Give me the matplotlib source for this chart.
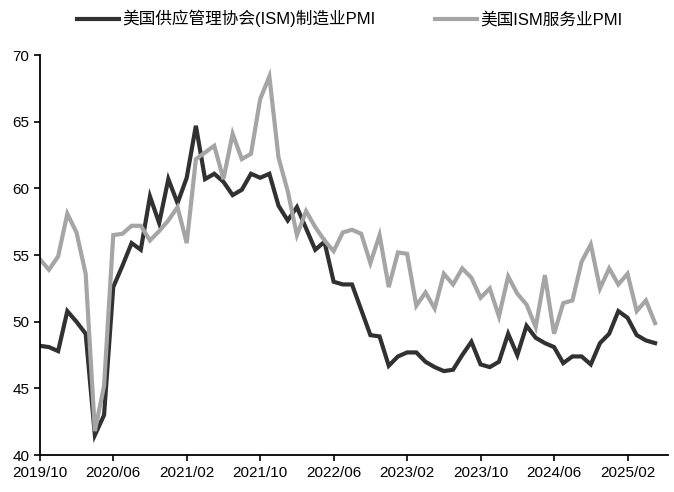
import numpy as np
import pandas as pd
import matplotlib
matplotlib.use('Agg')
import matplotlib.pyplot as plt

plt.rcParams['font.family'] = ['Liberation Sans', 'Noto Sans CJK SC', 'DejaVu Sans']

# monthly, 2019/10 .. 2025/05
months = pd.date_range('2019-10-01', periods=68, freq='MS')

ism_mfg = [48.2, 48.1, 47.8, 50.8, 50.0, 49.1, 41.5, 43.0, 52.6, 54.2, 55.9, 55.4,
           59.4, 57.4, 60.7, 58.9, 60.8, 64.7, 60.7, 61.1, 60.5, 59.5, 59.9, 61.1,
           60.8, 61.1, 58.7, 57.6, 58.6, 57.0, 55.4, 56.0, 53.0, 52.8, 52.8, 50.9,
           49.0, 48.9, 46.7, 47.4, 47.7, 47.7, 47.0, 46.6, 46.3, 46.4, 47.5, 48.5,
           46.8, 46.6, 47.0, 49.1, 47.5, 49.7, 48.8, 48.4, 48.1, 46.9, 47.4, 47.4,
           46.8, 48.4, 49.1, 50.8, 50.3, 49.0, 48.6, 48.4]

ism_srv = [54.7, 53.9, 54.9, 58.1, 56.7, 53.6, 41.8, 45.2, 56.5, 56.6, 57.2, 57.2,
           56.1, 56.8, 57.6, 58.6, 55.9, 62.2, 62.7, 63.2, 60.7, 64.1, 62.2, 62.6,
           66.7, 68.4, 62.3, 59.8, 56.5, 58.3, 57.1, 56.1, 55.3, 56.7, 56.9, 56.6,
           54.4, 56.5, 52.6, 55.2, 55.1, 51.2, 52.2, 51.0, 53.6, 52.8, 54.0, 53.3,
           51.8, 52.5, 50.4, 53.4, 52.1, 51.3, 49.6, 53.5, 49.1, 51.4, 51.6, 54.5,
           55.8, 52.5, 54.0, 52.8, 53.6, 50.8, 51.6, 49.9]

label_mfg = '美国供应管理协会(ISM)制造业PMI'
label_srv = '美国ISM服务业PMI'

x = np.arange(len(months))
tick_idx = x[::8]
tick_labels = [months[i].strftime('%Y/%m') for i in tick_idx]

fig = plt.figure(figsize=(6.74, 4.92), dpi=100)
ax = fig.add_axes([0.059, 0.075, 0.932, 0.813])

ax.plot(x, ism_mfg, color='#313131', lw=3, label=label_mfg, solid_joinstyle='miter')
ax.plot(x, ism_srv, color='#a5a5a5', lw=3, label=label_srv, solid_joinstyle='miter')

ax.set_xlim(0, 68.4)
ax.set_ylim(40, 70)
ax.set_yticks(range(40, 71, 5))
ax.set_xticks(tick_idx)
ax.set_xticklabels(tick_labels)
ax.tick_params(labelsize=11, direction='out', length=4, width=1.2, colors='black')
ax.tick_params(axis='x', pad=4)

for side in ['top', 'right']:
    ax.spines[side].set_visible(False)
for side in ['left', 'bottom']:
    ax.spines[side].set_linewidth(1.3)
    ax.spines[side].set_color('black')

fig.legend(loc='center', bbox_to_anchor=(0.519, 0.962), ncol=2, frameon=False,
           fontsize=12, handlelength=2.5, columnspacing=3.6, handletextpad=0.2)

fig.savefig('out.png', dpi=100)
